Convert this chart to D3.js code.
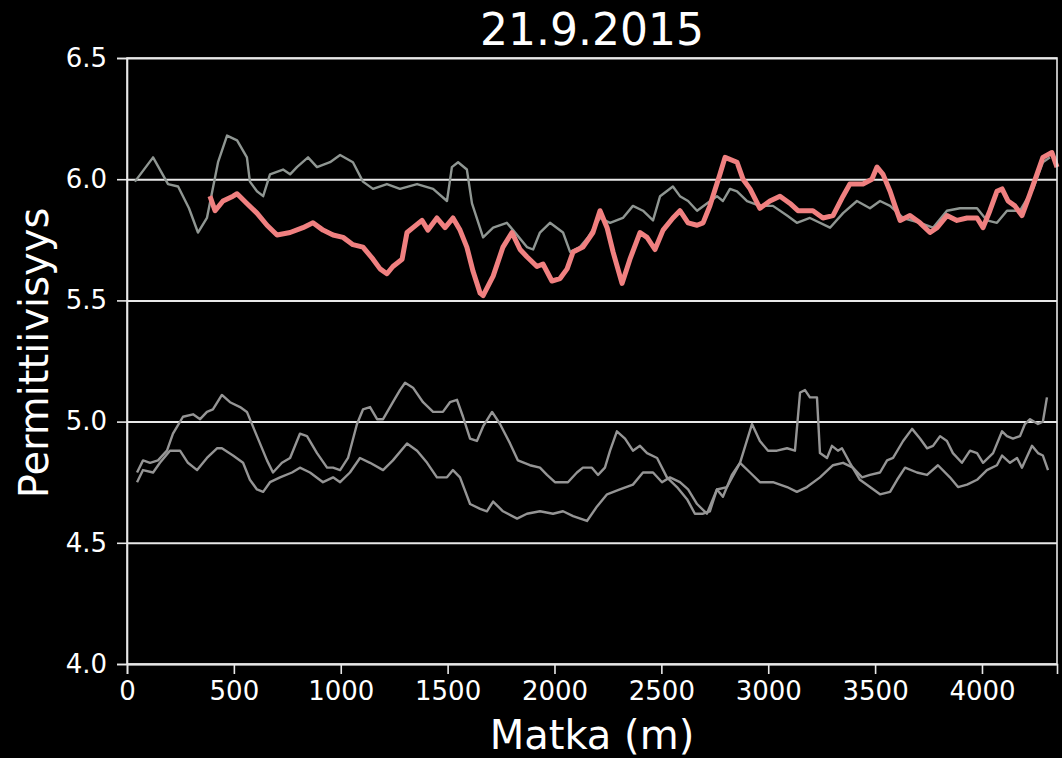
<!DOCTYPE html>
<html>
<head>
<meta charset="utf-8">
<script src="https://cdn.jsdelivr.net/npm/d3@7"></script>
<style>
  html, body { margin: 0; padding: 0; background: #000; }
  svg { display: block; }
  text { font-family: "DejaVu Sans", sans-serif; fill: #fff; }
</style>
</head>
<body>
<svg id="chart" width="1062" height="758"></svg>
<script>
// Permittivity profiles along the route (distance in metres)
const redDistance = [388,412,449,496,515,561,608,655,702,763,823,870,917,964,1011,1057,1104,1151,1184,1216,1244,1287,1310,1338,1380,1408,1450,1488,1525,1558,1590,1619,1652,1666,1713,1759,1801,1839,1871,1918,1946,1988,2026,2059,2087,2133,2180,2213,2246,2274,2316,2353,2400,2433,2470,2508,2554,2587,2625,2667,2695,2727,2774,2798,2854,2882,2915,2961,3008,3055,3102,3139,3162,3209,3256,3303,3350,3382,3443,3485,3509,3537,3570,3593,3617,3663,3710,3757,3790,3836,3883,3930,3977,4005,4037,4070,4094,4122,4154,4187,4225,4257,4285,4327,4351];
const redValue = [5.93,5.87,5.91,5.93,5.94,5.90,5.86,5.81,5.77,5.78,5.80,5.82,5.79,5.77,5.76,5.73,5.72,5.67,5.63,5.61,5.64,5.67,5.78,5.80,5.83,5.79,5.84,5.80,5.84,5.79,5.72,5.62,5.53,5.52,5.60,5.72,5.78,5.71,5.68,5.64,5.65,5.58,5.59,5.63,5.70,5.72,5.78,5.87,5.80,5.70,5.57,5.67,5.78,5.76,5.71,5.79,5.84,5.87,5.82,5.81,5.82,5.89,6.02,6.09,6.07,6.00,5.96,5.88,5.91,5.93,5.90,5.87,5.87,5.87,5.84,5.85,5.93,5.98,5.98,6.00,6.05,6.02,5.95,5.89,5.83,5.85,5.82,5.78,5.80,5.85,5.83,5.84,5.84,5.80,5.87,5.95,5.96,5.91,5.89,5.85,5.94,6.02,6.09,6.11,6.05];

const upperDistance = [37,122,192,239,290,332,374,426,468,515,561,575,608,637,669,730,763,795,847,889,950,997,1057,1104,1151,1216,1277,1357,1432,1497,1520,1549,1590,1614,1666,1713,1777,1806,1871,1900,1932,1979,2040,2073,2119,2157,2213,2260,2320,2367,2414,2461,2494,2554,2587,2625,2667,2713,2760,2788,2821,2854,2901,2961,3022,3088,3134,3195,3289,3350,3415,3476,3523,3570,3631,3710,3771,3836,3897,3977,4023,4070,4117,4178,4239,4285,4318];
const upperValue = [5.99,6.09,5.98,5.97,5.88,5.78,5.84,6.07,6.18,6.16,6.09,5.99,5.95,5.93,6.02,6.04,6.02,6.05,6.09,6.05,6.07,6.10,6.07,5.99,5.96,5.98,5.96,5.98,5.96,5.91,6.05,6.07,6.04,5.90,5.76,5.80,5.82,5.79,5.72,5.71,5.78,5.82,5.78,5.70,5.72,5.76,5.84,5.82,5.84,5.89,5.87,5.83,5.93,5.97,5.93,5.91,5.87,5.90,5.93,5.91,5.96,5.95,5.91,5.89,5.89,5.85,5.82,5.84,5.80,5.86,5.91,5.88,5.91,5.89,5.84,5.82,5.80,5.87,5.88,5.88,5.83,5.82,5.87,5.87,5.96,6.07,6.09];

const lowerADistance = [47,75,108,145,187,215,262,309,342,374,402,444,482,529,561,608,655,683,725,763,809,842,889,936,964,997,1034,1076,1104,1137,1170,1198,1244,1277,1301,1338,1385,1432,1478,1511,1544,1572,1605,1637,1666,1708,1745,1792,1829,1885,1932,1965,2002,2063,2105,2133,2175,2204,2236,2260,2292,2330,2367,2400,2433,2480,2526,2573,2620,2657,2695,2727,2760,2807,2868,2924,2961,2999,3041,3088,3125,3149,3172,3195,3228,3242,3275,3298,3326,3345,3382,3429,3476,3523,3570,3603,3640,3696,3743,3794,3850,3888,3930,3977,4023,4070,4094,4131,4164,4187,4234,4262,4285,4309];
const lowerAValue = [4.79,4.84,4.83,4.84,4.88,4.95,5.02,5.03,5.01,5.04,5.05,5.11,5.08,5.06,5.04,4.94,4.84,4.79,4.83,4.85,4.95,4.94,4.87,4.81,4.81,4.80,4.85,4.99,5.05,5.06,5.01,5.01,5.08,5.13,5.16,5.14,5.08,5.04,5.04,5.08,5.09,5.02,4.93,4.92,4.98,5.04,4.99,4.91,4.84,4.82,4.81,4.78,4.75,4.75,4.79,4.81,4.81,4.78,4.81,4.88,4.96,4.93,4.88,4.90,4.87,4.85,4.77,4.73,4.68,4.62,4.62,4.63,4.72,4.73,4.83,4.99,4.92,4.88,4.88,4.89,4.88,5.12,5.13,5.10,5.10,4.87,4.85,4.90,4.88,4.89,4.83,4.76,4.73,4.70,4.71,4.76,4.81,4.79,4.78,4.82,4.77,4.73,4.74,4.76,4.80,4.82,4.86,4.83,4.85,4.81,4.90,4.87,4.86,4.80];

const lowerBDistance = [47,75,122,154,201,248,285,328,374,421,444,496,543,575,608,637,669,716,772,809,856,917,964,997,1043,1090,1137,1198,1244,1310,1357,1404,1450,1497,1525,1558,1605,1652,1684,1713,1759,1825,1871,1932,1993,2040,2087,2152,2199,2246,2306,2367,2414,2461,2503,2540,2587,2625,2667,2713,2760,2788,2830,2868,2915,2961,3022,3088,3134,3181,3242,3303,3350,3396,3439,3476,3523,3556,3584,3631,3673,3710,3743,3771,3804,3836,3864,3906,3944,3977,4005,4052,4094,4117,4145,4178,4201,4225,4262,4285,4304];
const lowerBValue = [4.75,4.80,4.79,4.83,4.88,4.88,4.83,4.80,4.85,4.89,4.89,4.86,4.83,4.76,4.72,4.71,4.75,4.77,4.79,4.81,4.79,4.75,4.77,4.75,4.79,4.85,4.83,4.80,4.84,4.91,4.88,4.83,4.77,4.77,4.80,4.77,4.66,4.64,4.63,4.67,4.63,4.60,4.62,4.63,4.62,4.63,4.61,4.59,4.65,4.70,4.72,4.74,4.79,4.79,4.75,4.77,4.75,4.72,4.66,4.62,4.72,4.69,4.78,4.83,4.79,4.75,4.75,4.73,4.71,4.73,4.77,4.82,4.83,4.81,4.77,4.78,4.79,4.84,4.85,4.92,4.97,4.93,4.89,4.90,4.94,4.92,4.87,4.83,4.88,4.87,4.83,4.87,4.96,4.94,4.93,4.94,4.99,5.01,4.99,5.00,5.10];

const xTicks = [0, 500, 1000, 1500, 2000, 2500, 3000, 3500, 4000];
const yTicks = [4.0, 4.5, 5.0, 5.5, 6.0, 6.5];
const titleText = "21.9.2015";
const xLabel = "Matka (m)";
const yLabel = "Permittiivisyys";

const svg = d3.select("#chart");
const W = 1062, H = 758;
const m = { left: 127, right: 5, top: 58, bottom: 94 };
const iw = W - m.left - m.right, ih = H - m.top - m.bottom;

svg.append("rect").attr("width", W).attr("height", H).attr("fill", "#000");

const x = d3.scaleLinear().domain([0, 4351]).range([0, iw]);
const y = d3.scaleLinear().domain([4.0, 6.5]).range([ih, 0]);

const g = svg.append("g").attr("transform", `translate(${m.left},${m.top})`);

// horizontal grid
const grid = g.append("g").call(d3.axisLeft(y).tickValues(yTicks).tickSize(-iw).tickFormat(""));
grid.select(".domain").remove();
grid.selectAll("line").attr("stroke", "#e8e8e8").attr("stroke-width", 2);

// series
const line = d3.line().x(d => x(d[0])).y(d => y(d[1]));
const series = [
  { d: d3.zip(lowerADistance, lowerAValue), color: "#959595", w: 2.4 },
  { d: d3.zip(lowerBDistance, lowerBValue), color: "#959595", w: 2.4 },
  { d: d3.zip(upperDistance, upperValue), color: "#8f9692", w: 2.4 },
  { d: d3.zip(redDistance, redValue), color: "#f08080", w: 5 }
];
g.selectAll("path.series").data(series).join("path")
  .attr("class", "series")
  .attr("fill", "none")
  .attr("stroke", s => s.color)
  .attr("stroke-width", s => s.w)
  .attr("stroke-linejoin", "round")
  .attr("d", s => line(s.d));

// frame
g.append("rect").attr("width", iw).attr("height", ih)
  .attr("fill", "none").attr("stroke", "#e8e8e8").attr("stroke-width", 1.6);

// axes
const xAxis = g.append("g").attr("transform", `translate(0,${ih})`)
  .call(d3.axisBottom(x).tickValues(xTicks).tickSize(10).tickPadding(8).tickFormat(d3.format("d")));
const yAxis = g.append("g")
  .call(d3.axisLeft(y).tickValues(yTicks).tickSize(10).tickPadding(10).tickFormat(d3.format(".1f")));
[xAxis, yAxis].forEach(a => {
  a.select(".domain").attr("stroke", "#e8e8e8").attr("stroke-width", 1.6);
  a.selectAll(".tick line").attr("stroke", "#e8e8e8").attr("stroke-width", 1.6);
  a.selectAll(".tick text").attr("fill", "#fff").style("font-size", "26px")
    .style("font-family", "DejaVu Sans, sans-serif");
});

// title and labels
svg.append("text").attr("x", m.left + iw / 2).attr("y", 45)
  .attr("text-anchor", "middle").style("font-size", "44px").text(titleText);
svg.append("text").attr("x", m.left + iw / 2).attr("y", 749)
  .attr("text-anchor", "middle").style("font-size", "40px").text(xLabel);
svg.append("text").attr("transform", `translate(48,${m.top + ih / 2 - 8}) rotate(-90)`)
  .attr("text-anchor", "middle").style("font-size", "40px").text(yLabel);
</script>
</body>
</html>
